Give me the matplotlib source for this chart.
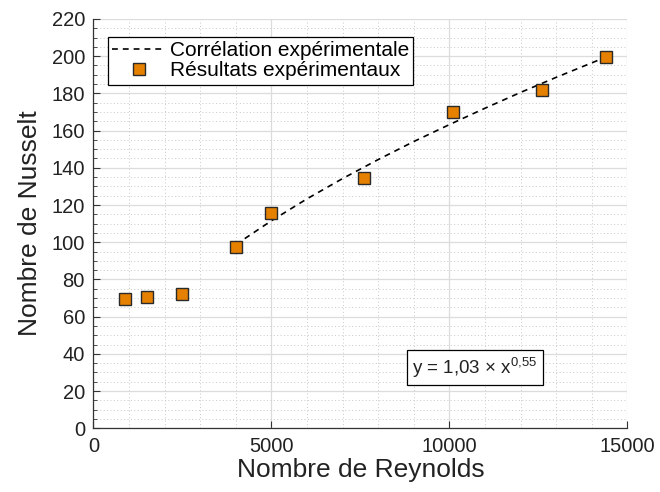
import matplotlib
matplotlib.use("Agg")
import matplotlib.pyplot as plt
from matplotlib.ticker import MultipleLocator

plt.rcParams['font.family'] = ['Liberation Sans', 'DejaVu Sans']
plt.rcParams['mathtext.fontset'] = 'custom'
plt.rcParams['mathtext.rm'] = 'Liberation Sans'
plt.rcParams['mathtext.it'] = 'Liberation Sans'

# Experimental results
reynolds = [900, 1500, 2500, 4000, 5000, 7600, 10100, 12600, 14400]
nusselt = [69.5, 70.3, 72.0, 97.2, 115.8, 134.3, 169.8, 181.8, 199.8]

# Correlation curve (y = 1,03 x^0,55)
corr_re = [4000, 5000, 6000, 7000, 8000, 9000, 10000, 11000, 12000, 13000, 14400]
corr_nu = [98.7, 111.5, 123.3, 134.2, 144.4, 154.1, 163.2, 172.0, 180.5, 188.6, 199.5]

legend_labels = ["Corrélation expérimentale", "Résultats expérimentaux"]
equation_text = r"y = 1,03 $\mathregular{\times}$ x$^{\mathregular{0{,}55}}$"

fig = plt.figure(figsize=(6.6, 4.92), dpi=100)
ax = fig.add_axes([0.1414, 0.1295, 0.8091, 0.832])

ax.plot(corr_re, corr_nu, linestyle=(0, (3.5, 3.0)), color='black', linewidth=1.2,
        label=legend_labels[0], zorder=3)
ax.plot(reynolds, nusselt, linestyle='none', marker='s', markersize=8.5,
        markerfacecolor='#E68000', markeredgecolor='#2a2a2a', markeredgewidth=1.0,
        label=legend_labels[1], zorder=4)

ax.set_xlim(0, 15000)
ax.set_ylim(0, 220)
ax.xaxis.set_major_locator(MultipleLocator(5000))
ax.xaxis.set_minor_locator(MultipleLocator(1000))
ax.yaxis.set_major_locator(MultipleLocator(20))
ax.yaxis.set_minor_locator(MultipleLocator(5))

ax.grid(which='major', color='#dcdcdc', linestyle='-', linewidth=0.9)
ax.grid(which='minor', color='#c8c8c8', linestyle=(0, (1, 2.5)), linewidth=0.7)
ax.set_axisbelow(True)

for s in ['top', 'right']:
    ax.spines[s].set_visible(False)
for s in ['left', 'bottom']:
    ax.spines[s].set_color('#333333')
    ax.spines[s].set_linewidth(0.9)

ax.tick_params(which='major', direction='in', length=5, width=0.8, color='#333333',
               labelsize=14.5, labelcolor='#222222', pad=6)
ax.tick_params(axis='y', which='minor', direction='in', length=3, width=0.6, color='#333333')
ax.tick_params(axis='x', which='minor', length=0)

ax.set_xlabel("Nombre de Reynolds", fontsize=19, color='#222222', labelpad=2)
ax.set_ylabel("Nombre de Nusselt", fontsize=19, color='#222222', labelpad=7)

leg = ax.legend(loc='upper left', bbox_to_anchor=(0.027, 0.957), borderaxespad=0,
                fontsize=15, frameon=True, fancybox=False, framealpha=1,
                edgecolor='black', handlelength=2.6, handletextpad=0.15,
                borderpad=0.22, labelspacing=0.05)
leg.get_frame().set_linewidth(0.9)

ax.text(10720, 32.5, equation_text, fontsize=13.5, ha='center', va='center',
        color='#222222',
        bbox=dict(boxstyle='square,pad=0.3', facecolor='white', edgecolor='black',
                  linewidth=0.9))

fig.savefig('out.png', dpi=100)
